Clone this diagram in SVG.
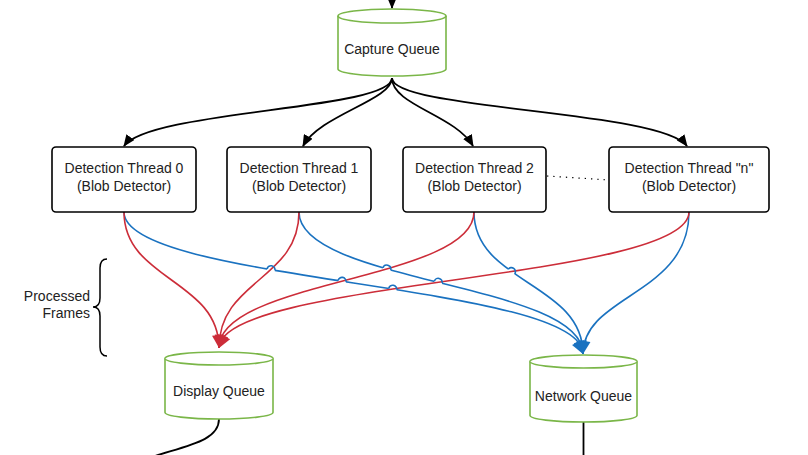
<svg xmlns="http://www.w3.org/2000/svg" xmlns:xlink="http://www.w3.org/1999/xlink" width="808" height="455" viewBox="0 0 808 455">
<defs>
<style>
.t{font-family:"Liberation Sans",Arial,sans-serif;font-size:14px;fill:#222;text-anchor:middle}
.lbl{font-family:"Liberation Sans",Arial,sans-serif;font-size:14px;fill:#222;text-anchor:end}
.box{fill:#fff;stroke:#000;stroke-width:1.6}
.cyl{fill:#fff;stroke:#7AB648;stroke-width:1.6}
.blk{fill:none;stroke:#000;stroke-width:1.8}
.red{fill:none;stroke:#CC2D39;stroke-width:1.6}
.blu{fill:none;stroke:#1A72C0;stroke-width:1.6}
.cov{fill:none;stroke:#fff;stroke-width:3.5}
</style>
<marker id="ab" viewBox="0 0 12 10" refX="11" refY="5" markerWidth="12" markerHeight="10" markerUnits="userSpaceOnUse" orient="auto"><path d="M0,0 L12,5 L0,10 Z" fill="#000"/></marker>
<path id="ar" d="M0,0 L-5.5,-13 L5.5,-13 Z"/>
</defs>
<rect width="808" height="455" fill="#fff"/>

<g id="connectors">
<line class="blk" x1="392" y1="-5" x2="392" y2="8" marker-end="url(#ab)"/>
<path class="blk" d="M392,78 C392,110 150,110 124,146" marker-end="url(#ab)"/>
<path class="blk" d="M392,78 C392,100 320,115 303,146" marker-end="url(#ab)"/>
<path class="blk" d="M392,78 C392,105 455,115 473,146" marker-end="url(#ab)"/>
<path class="blk" d="M392,78 C392,110 660,110 687,146" marker-end="url(#ab)"/>
<line x1="547" y1="176" x2="609" y2="180" stroke="#000" stroke-width="1.2" stroke-dasharray="1.3 5"/>

<path class="blu" d="M124,212 C124,283 583,283 583,354"/>
<path class="blu" d="M299,212 C299,283 583,283 583,354"/>
<path class="blu" d="M474,212 C474,283 583,283 583,354"/>
<path class="blu" d="M689,212 C689,295 583,295 583,354"/>

<path class="cov" d="M267.06,269.01 L274.94,270.39 M338.05,280.59 L345.95,281.81 M388.75,288.48 L396.65,289.72 M382.96,267.8 L390.64,270 M434.32,281.33 L442.08,283.27 M508.14,269.28 L514.66,273.92"/>

<path class="red" d="M124,212 C124,280 219,280 219,348"/>
<path class="red" d="M299,212 C299,280 219,280 219,348"/>
<path class="red" d="M474,212 C474,280 219,280 219,348"/>
<path class="red" d="M689,212 C689,280 219,280 219,348"/>

<path class="blu" d="M267.06,269.01 A4,4 0 0 1 274.94,270.39 M338.05,280.59 A4,4 0 0 1 345.95,281.81 M388.75,288.48 A4,4 0 0 1 396.65,289.72 M382.96,267.8 A4,4 0 0 1 390.64,270 M434.32,281.33 A4,4 0 0 1 442.08,283.27 M508.14,269.28 A4,4 0 0 1 514.66,273.92"/>

<g fill="#CC2D39">
<use xlink:href="#ar" href="#ar" transform="translate(219,348) rotate(-6.5)"/>
<use xlink:href="#ar" href="#ar" transform="translate(219,348) rotate(5.5)"/>
<use xlink:href="#ar" href="#ar" transform="translate(219,348) rotate(17)"/>
<use xlink:href="#ar" href="#ar" transform="translate(219,348) rotate(29)"/>
</g>
<g fill="#1A72C0">
<use xlink:href="#ar" href="#ar" transform="translate(583,354) rotate(-28)"/>
<use xlink:href="#ar" href="#ar" transform="translate(583,354) rotate(-18)"/>
<use xlink:href="#ar" href="#ar" transform="translate(583,354) rotate(-7)"/>
<use xlink:href="#ar" href="#ar" transform="translate(583,354) rotate(9)"/>
</g>

<path class="blk" d="M219,419 C219,440 190,445 155,456"/>
<line class="blk" x1="583.5" y1="422" x2="583.5" y2="456"/>

<path d="M107,259 Q100,259 100,268 L100,298 Q100,307 93,307 Q100,307 100,316 L100,347 Q100,356 107,356" fill="none" stroke="#000" stroke-width="1.5"/>
</g>

<g id="capture-queue">
<path class="cyl" d="M338,16 A54,7 0 0 1 446,16 L446,69 A54,7 0 0 1 338,69 Z"/>
<path class="cyl" d="M338,16 A54,7 0 0 0 446,16"/>
<text class="t" x="392" y="54">Capture Queue</text>
</g>

<g id="thread-0">
<rect class="box" x="52" y="147" width="144" height="65" rx="4"/>
<text class="t" x="124" y="173">Detection Thread 0</text>
<text class="t" x="124" y="191">(Blob Detector)</text>
</g>
<g id="thread-1">
<rect class="box" x="227" y="147" width="144" height="65" rx="4"/>
<text class="t" x="299" y="173">Detection Thread 1</text>
<text class="t" x="299" y="191">(Blob Detector)</text>
</g>
<g id="thread-2">
<rect class="box" x="403" y="147" width="143" height="65" rx="4"/>
<text class="t" x="474.5" y="173">Detection Thread 2</text>
<text class="t" x="474.5" y="191">(Blob Detector)</text>
</g>
<g id="thread-n">
<rect class="box" x="609" y="147" width="160" height="65" rx="4"/>
<text class="t" x="689" y="173">Detection Thread "n"</text>
<text class="t" x="689" y="191">(Blob Detector)</text>
</g>

<g id="display-queue">
<path class="cyl" d="M165,358.5 A54,6.5 0 0 1 273,358.5 L273,412.5 A54,6.5 0 0 1 165,412.5 Z"/>
<path class="cyl" d="M165,358.5 A54,6.5 0 0 0 273,358.5"/>
<text class="t" x="219" y="396">Display Queue</text>
</g>

<g id="network-queue">
<path class="cyl" d="M530,361.5 A53.5,6.5 0 0 1 637,361.5 L637,415.5 A53.5,6.5 0 0 1 530,415.5 Z"/>
<path class="cyl" d="M530,361.5 A53.5,6.5 0 0 0 637,361.5"/>
<text class="t" x="583.5" y="401">Network Queue</text>
</g>

<g id="processed-frames">
<text class="lbl" x="90" y="301">Processed</text>
<text class="lbl" x="90" y="318">Frames</text>
</g>
</svg>
